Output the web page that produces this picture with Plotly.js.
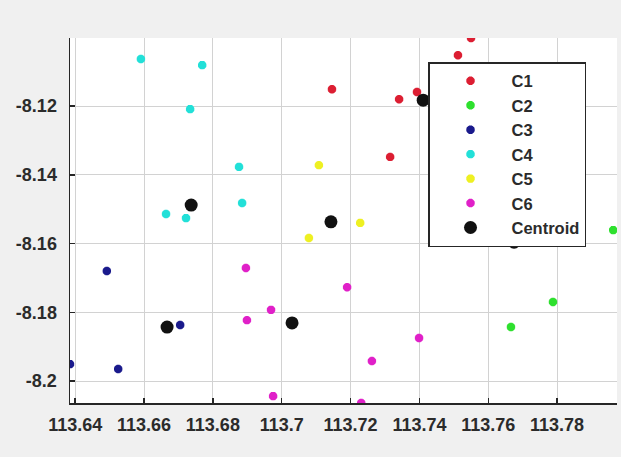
<!DOCTYPE html>
<html>
<head>
<meta charset="utf-8">
<script src="https://cdn.plot.ly/plotly-3.0.1.min.js"></script>
<style>html,body{margin:0;padding:0;background:#f0f0f0;}#chart{width:621px;height:457px;}</style>
</head>
<body>
<div id="chart"></div>
<script>
// Cluster points (longitude, latitude)
var c1X = [113.7550, 113.7512, 113.7146, 113.7341, 113.7393, 113.7315];
var c1Y = [-8.1002, -8.1052, -8.1151, -8.1180, -8.1159, -8.1348];
var c2X = [113.7963, 113.7788, 113.7666];
var c2Y = [-8.1561, -8.1770, -8.1843];
var c3X = [113.6492, 113.6705, 113.6385, 113.6525];
var c3Y = [-8.1680, -8.1837, -8.1951, -8.1965];
var c4X = [113.6591, 113.6769, 113.6734, 113.6876, 113.6664, 113.6722, 113.6885];
var c4Y = [-8.1063, -8.1081, -8.1209, -8.1377, -8.1514, -8.1526, -8.1482];
var c5X = [113.7108, 113.7228, 113.7079];
var c5Y = [-8.1372, -8.1540, -8.1584];
var c6X = [113.6896, 113.7190, 113.6969, 113.6899, 113.6975, 113.7262, 113.7399, 113.7231];
var c6Y = [-8.1671, -8.1727, -8.1793, -8.1823, -8.2044, -8.1942, -8.1875, -8.2064];
var centroidX = [113.7411, 113.7675, 113.6667, 113.6737, 113.7143, 113.7030];
var centroidY = [-8.1183, -8.1596, -8.1843, -8.1488, -8.1537, -8.1831];

var seriesNames = ["C1", "C2", "C3", "C4", "C5", "C6", "Centroid"];
var xTickVals = [113.64, 113.66, 113.68, 113.70, 113.72, 113.74, 113.76, 113.78];
var xTickText = ["113.64", "113.66", "113.68", "113.7", "113.72", "113.74", "113.76", "113.78"];
var yTickVals = [-8.20, -8.18, -8.16, -8.14, -8.12];
var yTickText = ["-8.2", "-8.18", "-8.16", "-8.14", "-8.12"];

var colors = ["#dc1e32", "#2ee02e", "#1a1a8c", "#22e0d8", "#eef022", "#e020c8", "#111111"];
var xs = [c1X, c2X, c3X, c4X, c5X, c6X, centroidX];
var ys = [c1Y, c2Y, c3Y, c4Y, c5Y, c6Y, centroidY];

var traces = [];
for (var i = 0; i < 7; i++) {
  var isCent = (i === 6);
  traces.push({
    type: "scatter", mode: "markers", name: seriesNames[i],
    x: xs[i], y: ys[i],
    marker: isCent ? {symbol: "circle", size: 13, color: colors[i], line: {width: 0}}
                   : {symbol: "asterisk-open", size: 7, color: colors[i], line: {width: 3, color: colors[i]}}
  });
}

var fontTick = {family: "Liberation Sans, Arial, sans-serif", size: 18, color: "#2b2b2b", weight: "bold"};
var layout = {
  width: 621, height: 457,
  paper_bgcolor: "#f0f0f0", plot_bgcolor: "#ffffff",
  margin: {l: 70, r: 4, t: 38, b: 54},
  showlegend: true,
  legend: {
    x: 0.6545, y: 0.934, xanchor: "left", yanchor: "top",
    bgcolor: "#ffffff", bordercolor: "#262626", borderwidth: 1.5,
    itemwidth: 72,
    font: {family: "Liberation Sans, Arial, sans-serif", size: 16.5, color: "#2b2b2b", weight: "bold"}
  },
  xaxis: {
    range: [113.6385, 113.7974], tickvals: xTickVals, ticktext: xTickText,
    showgrid: true, gridcolor: "#d2d2d2", gridwidth: 1, zeroline: false,
    showline: true, linecolor: "#262626", linewidth: 1.5, mirror: false,
    ticks: "inside", ticklen: 5, tickcolor: "#262626", tickwidth: 1.5,
    ticklabelstandoff: 5,
    tickfont: fontTick
  },
  yaxis: {
    range: [-8.2064, -8.1002], tickvals: yTickVals, ticktext: yTickText,
    showgrid: true, gridcolor: "#d2d2d2", gridwidth: 1, zeroline: false,
    showline: true, linecolor: "#262626", linewidth: 1.5, mirror: false,
    ticks: "inside", ticklen: 5, tickcolor: "#262626", tickwidth: 1.5,
    ticklabelstandoff: 8,
    tickfont: fontTick
  }
};
Plotly.newPlot("chart", traces, layout, {displayModeBar: false, staticPlot: true});
</script>
</body>
</html>
